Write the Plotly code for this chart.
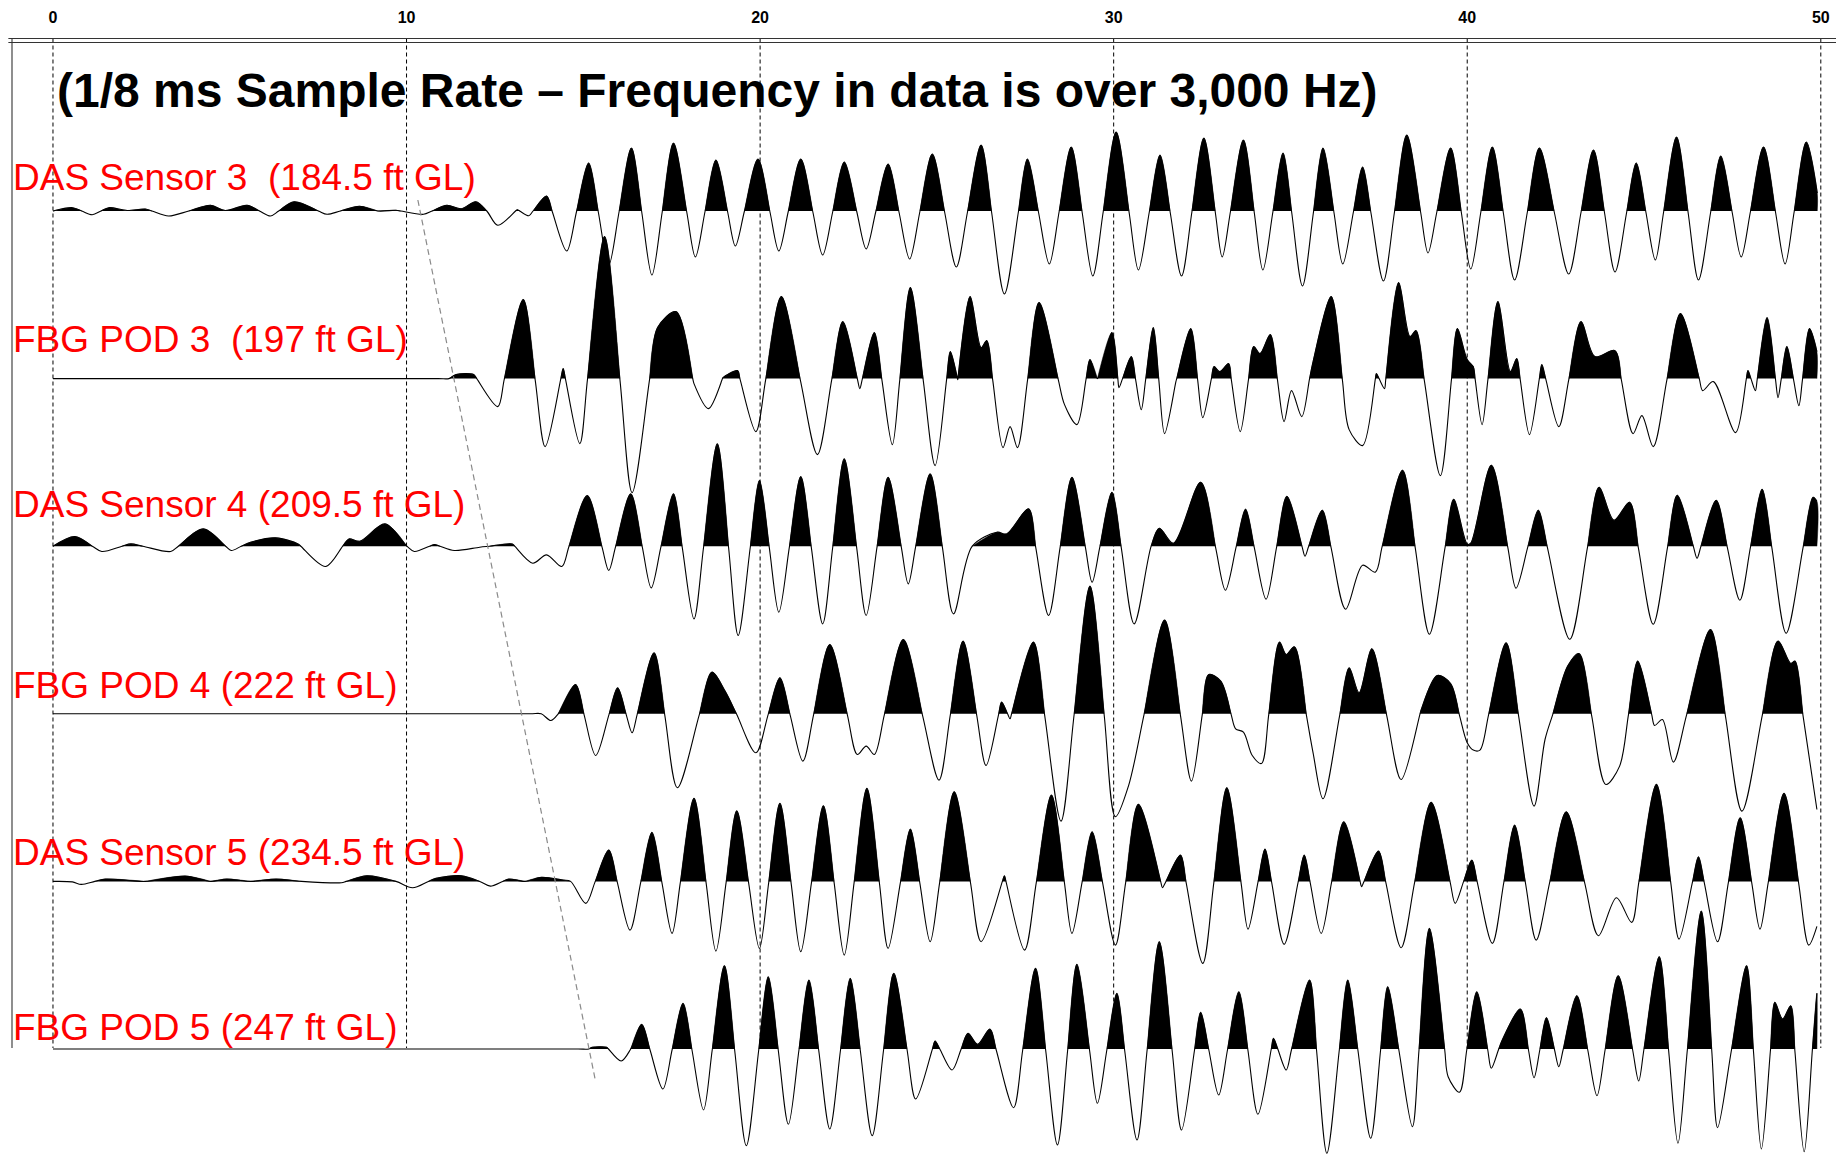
import plotly.graph_objects as go

# ---------------- data (time in ms, amplitude in display units; upward positive) ----------------
tick_vals = [0, 10, 20, 30, 40, 50]
title_text = "(1/8 ms Sample Rate \u2013 Frequency in data is over 3,000 Hz)"
labels = ["DAS Sensor 3  (184.5 ft GL)", "FBG POD 3  (197 ft GL)", "DAS Sensor 4 (209.5 ft GL)",
          "FBG POD 4 (222 ft GL)", "DAS Sensor 5 (234.5 ft GL)", "FBG POD 5 (247 ft GL)"]

das3 = [(0.0, 0), (0.55, 3.3), (1.11, -3.7), (1.58, 3.3), (2.10, 0.5), (2.61, 2), (3.27, -5), (3.84, 0),
        (4.46, 5.7), (4.87, 0.5), (5.49, 5.7), (6.15, -5), (6.82, 9.3), (7.75, -3.3), (8.67, 4.7), (9.19, 0),
        (9.70, 0.7), (10.48, -3.3), (11.14, 5.7), (11.55, 2.3), (11.96, 9.3), (12.27, 0), (12.58, -14.3),
        (13.13, 1.3), (13.46, -4.7), (13.96, 15), (14.53, -40), (15.15, 48), (15.72, -54), (16.36, 63),
        (16.94, -64), (17.55, 68), (18.17, -46), (18.75, 51), (19.30, -35), (19.94, 52), (20.53, -40),
        (21.15, 52), (21.77, -44), (22.38, 49), (23.00, -38), (23.62, 47), (24.23, -48), (24.87, 57),
        (25.55, -56), (26.25, 66), (26.91, -83), (27.56, 52), (28.18, -53), (28.80, 64), (29.41, -65),
        (30.07, 79), (30.70, -59), (31.31, 56), (31.92, -65), (32.55, 73), (33.07, -46), (33.67, 71),
        (34.22, -59), (34.79, 58), (35.34, -75), (35.92, 63), (36.48, -53), (37.04, 44), (37.63, -70),
        (38.29, 76), (38.89, -42), (39.53, 63), (40.10, -58), (40.71, 64), (41.34, -69), (42.04, 63),
        (42.87, -63), (43.57, 61), (44.18, -61), (44.78, 48), (45.32, -49), (45.92, 74), (46.54, -69),
        (47.17, 55), (47.75, -46), (48.38, 64), (48.99, -53), (49.59, 69), (49.90, 18)]

fbg3 = [(0.0, 0), (5.0, 0), (10.9, 0), (11.2, 0), (11.4, 4), (11.9, 4), (12.58, -28), (13.30, 79),
        (13.92, -68), (14.43, 10),
        (14.90, -65), (15.60, 142), (16.38, -114), (17.10, 51), (17.62, 67), (18.13, -5), (18.54, -30),
        (18.95, 1), (19.36, 8), (19.88, -53), (20.60, 82), (21.62, -76), (22.34, 57), (22.82, -10),
        (23.23, 46), (23.74, -66), (24.25, 91), (24.95, -87), (25.38, 27), (25.59, -1), (25.94, 82),
        (26.25, 31), (26.41, 38), (26.87, -69), (27.07, -48), (27.28, -69), (27.89, 76), (28.61, -26),
        (28.96, -46), (29.33, 19), (29.54, 0), (29.95, 46), (30.15, -9), (30.50, 22), (30.78, -31),
        (31.12, 51), (31.44, -55), (31.76, -3), (32.18, 50), (32.52, -39), (32.84, 12), (33.00, 7),
        (33.25, 15), (33.58, -53), (33.96, 32), (34.14, 25), (34.43, 44), (34.82, -43), (35.03, -12),
        (35.32, -38), (35.64, 17), (36.15, 82), (36.66, -51), (37.04, -67), (37.43, 5), (37.66, -10),
        (38.06, 96), (38.38, 42), (38.55, 48), (39.24, -97), (39.72, 50), (40.00, 19), (40.17, 12),
        (40.42, -46), (40.87, 77), (41.22, 7), (41.40, 20), (41.76, -56), (42.11, 14), (42.59, -48),
        (43.22, 57), (43.61, 22), (44.18, 28), (44.69, -55), (44.94, -37), (45.26, -68), (46.03, 65),
        (46.66, -12), (46.96, -3), (47.59, -54), (47.94, 8), (48.15, -12), (48.48, 61), (48.79, -19),
        (49.04, 32), (49.38, -27), (49.68, 50), (49.89, 27)]

das4 = [(0.0, 0), (0.62, 9.7), (1.38, -5.3), (2.20, 2.3), (3.33, -5.3), (4.25, 17.3), (5.04, -4.3),
        (5.59, 4), (6.31, 8.3), (6.93, 2.3), (7.71, -20.3), (8.37, 7.3), (8.68, 5), (9.39, 22.3),
        (10.01, 0), (10.22, -5.3), (10.79, 1.7), (11.35, -4.3), (12.07, -1), (12.99, 2.3), (13.57, -17),
        (13.96, -8.7), (14.39, -20.3), (15.11, 50.7), (15.72, -24.3), (16.34, 52.3), (16.92, -41.7),
        (17.55, 52.3), (18.13, -72.7), (18.79, 102.3), (19.38, -89.3), (19.98, 65.7), (20.53, -66),
        (21.15, 69.7), (21.77, -77.7), (22.38, 87.3), (23.00, -69.3), (23.62, 69), (24.19, -37.7),
        (24.81, 72.3), (25.47, -67.7), (26.00, 0), (26.70, 14), (26.97, 12.3), (27.59, 37.3),
        (28.16, -69.3), (28.82, 69), (29.39, -36), (29.95, 54), (30.58, -77.7), (31.06, 0), (31.29, 18),
        (31.69, 3), (32.46, 64), (33.16, -44), (33.73, 37), (34.31, -53), (34.90, 50), (35.41, -10),
        (35.90, 36), (36.56, -63), (37.04, -19), (37.40, -26), (38.17, 76), (38.93, -88), (39.62, 47),
        (40.00, 2), (40.10, 3), (40.68, 81), (41.38, -42), (42.01, 36), (42.90, -93), (43.73, 59),
        (44.15, 26), (44.59, 44), (45.26, -78), (45.94, 51), (46.50, -12), (47.04, 46), (47.71, -54),
        (48.34, 57), (49.02, -87), (49.78, 49), (49.89, 45)]

fbg4 = [(0.0, 0), (6.0, 0), (13.5, 0), (13.81, 0), (14.08, -6.7), (14.29, 0), (14.78, 29.3),
        (15.35, -41.7), (15.97, 26),
        (16.38, -19), (17.00, 61), (17.66, -74), (18.64, 41.7), (19.01, 22.7), (19.88, -39), (20.56, 36),
        (21.21, -47.3), (21.97, 69.3), (22.75, -40.7), (23.00, -32.3), (23.23, -40.7), (24.05, 74.3),
        (25.06, -66.3), (25.74, 72.7), (26.39, -51.7), (26.83, 11.7), (27.07, -5), (27.73, 71.7),
        (28.51, -107.3), (29.33, 127.7), (30.05, -103), (30.42, -72), (31.44, 93.7), (32.20, -67.3),
        (32.69, 39.3), (33.03, 32.7), (33.45, -15), (33.67, -18.3), (33.92, -41.7), (34.18, -49.7),
        (34.69, 71.7), (34.88, 59.3), (35.11, 67), (35.64, -39), (35.92, -85), (36.66, 46), (36.94, 21),
        (37.30, 65), (38.13, -65.7), (38.70, 4.3), (39.15, 38.3), (39.53, 30.3), (40.00, -29),
        (40.17, -36.3), (40.36, -36.3), (41.10, 71), (41.89, -92.3), (42.20, -25.7), (42.84, 47.7),
        (43.16, 60.3), (43.92, -70.7), (44.31, -52.3), (44.82, 52.7), (45.30, -11.7), (45.52, -5.7),
        (45.83, -48.3), (46.88, 84.3), (47.77, -97.3), (48.79, 72.7), (49.15, 50.3), (49.27, 52.7),
        (49.89, -95.7)]

das5 = [(0.0, 0), (0.55, -0.5), (0.80, -3), (1.48, 2.3), (2.61, 0), (3.74, 5.3), (4.46, 0), (4.91, 2.3),
        (5.59, 0), (6.31, 2.3), (7.03, 0), (8.16, -1.3), (8.88, 5.7), (9.70, 0), (10.17, -6.3),
        (10.83, 3), (11.55, 5.7), (12.07, 0), (12.37, -4.7), (12.89, 2.3), (13.35, 0), (13.81, 4),
        (14.43, 1.3), (14.64, 0), (15.07, -22), (15.72, 31.3), (16.32, -48.7), (16.94, 49), (17.51, -52),
        (18.13, 83), (18.75, -69.7), (19.34, 70.7), (19.98, -67), (20.56, 78), (21.15, -70.3),
        (21.79, 75.7), (22.38, -73.7), (23.02, 93), (23.62, -67), (24.25, 52.3), (24.81, -60.3),
        (25.49, 89.7), (26.25, -60.3), (26.91, 5.7), (27.48, -68.7), (28.24, 86.3), (28.82, -52),
        (29.39, 49.7), (30.05, -63.7), (30.70, 77), (31.38, -6.3), (31.89, 26.3), (32.52, -82),
        (33.20, 93.7), (33.80, -47.7), (34.28, 32.3), (34.82, -63), (35.39, 26.3), (35.87, -52),
        (36.51, 59.7), (37.01, -5.3), (37.49, 30.3), (38.13, -66.3), (38.98, 79), (39.66, -22),
        (40.13, 21.3), (40.71, -62), (41.34, 56.3), (41.95, -58.7), (42.80, 69.7), (43.71, -54.3),
        (44.22, -16.3), (44.65, -41), (45.35, 97), (45.99, -57.7), (46.54, 24.7), (47.08, -60.3),
        (47.72, 63.7), (48.28, -47.7), (48.96, 88), (49.66, -63.7), (49.89, -45)]

fbg5 = [(0.0, 0), (7.0, 0), (14.85, 0), (15.15, 0), (15.25, 1.7), (15.66, 1.7), (16.07, -12), (16.34, 0),
        (16.65, 24.7),
        (17.25, -40), (17.82, 45.7), (18.40, -61), (18.99, 83.3), (19.61, -96.7), (20.23, 72.3),
        (20.80, -75.3), (21.38, 69), (21.97, -80), (22.55, 70.7), (23.17, -86.7), (23.78, 75.7),
        (24.40, -50), (24.95, 8), (25.43, -21), (25.88, 15.7), (26.15, 4.7), (26.50, 20), (27.17, -58.7),
        (27.79, 80.7), (28.41, -96), (28.96, 84.7), (29.54, -54.3), (30.09, 55.7), (30.66, -91),
        (31.29, 107.3), (31.92, -81), (32.46, 36.7), (32.97, -46), (33.54, 57.3), (34.08, -65.3),
        (34.52, 10.7), (34.88, -21), (35.54, 69), (36.03, -104.3), (36.62, 69), (37.27, -89.3),
        (37.75, 62.3), (38.45, -77.7), (38.93, 120.7), (39.46, -27.7), (39.78, -43.3), (40.27, 57.3),
        (40.68, -19.3), (40.99, 9), (41.50, 40), (41.89, -28.7), (42.24, 31.3), (42.59, -17.7),
        (43.10, 53.3), (43.67, -46.7), (44.27, 73.3), (44.85, -32), (45.43, 92.3), (45.96, -94.3),
        (46.62, 138), (47.08, -78.7), (47.90, 83.3), (48.32, -100), (48.70, 46.7), (48.92, 30),
        (49.15, 43.3), (49.53, -102.7), (49.89, 55.7)]

moveout_t = [10.32, 15.35]          # dashed gray first-arrival guide
moveout_y = [11, -871]

# ---------------- layout constants ----------------
SPACING = 167.6
label_dy = [34, 39, 42, 28, 29, 22]
Y_TOP, Y_BOT = 181, -944
X0, X1 = -1.159, 50.43
FRAME_TOP1, FRAME_TOP2 = 172.5, 168.5
FRAME_BOTTOM = -837
SMOOTH = 0.9


def with_crossings(t, a):
    """Return the samples plus the baseline crossings between them (for the variable-area fill)."""
    xs, ys = [t[0]], [a[0]]
    for i in range(1, len(t)):
        if (a[i - 1] > 0 > a[i]) or (a[i - 1] < 0 < a[i]):
            tc = t[i - 1] + (t[i] - t[i - 1]) * (0 - a[i - 1]) / (a[i] - a[i - 1])
            xs.append(tc)
            ys.append(0.0)
        xs.append(t[i])
        ys.append(a[i])
    return xs, ys


def positive_lobes(t, a, base):
    xs, ys, poly = [], [], []
    n = len(t)
    for i in range(n):
        if a[i] > 0:
            if not poly:
                if i > 0 and a[i - 1] <= 0:
                    tc = t[i - 1] + (t[i] - t[i - 1]) * (0 - a[i - 1]) / (a[i] - a[i - 1])
                else:
                    tc = t[i]
                poly.append((tc, 0))
            poly.append((t[i], a[i]))
            if i == n - 1 or a[i + 1] <= 0:
                if i < n - 1:
                    tc = t[i] + (t[i + 1] - t[i]) * a[i] / (a[i] - a[i + 1])
                else:
                    tc = t[i]
                poly.append((tc, 0))
                xs += [p[0] for p in poly] + [None]
                ys += [p[1] + base for p in poly] + [None]
                poly = []
    return xs, ys


fig = go.Figure()
series = [das3, fbg3, das4, fbg4, das5, fbg5]
for k, s in enumerate(series):
    base = -SPACING * k
    t = [p[0] for p in s]
    a = [p[1] for p in s]
    fx, fy = positive_lobes(t, a, base)
    fig.add_trace(go.Scatter(x=fx, y=fy, mode="lines", fill="toself", fillcolor="black",
                             line=dict(color="black", width=0.5, shape="spline", smoothing=SMOOTH),
                             hoverinfo="skip", showlegend=False))
    lx, ly = with_crossings(t, a)
    fig.add_trace(go.Scatter(x=lx, y=[v + base for v in ly], mode="lines",
                             line=dict(color="black", width=1.1, shape="spline", smoothing=SMOOTH),
                             name=labels[k], showlegend=False))

fig.add_trace(go.Scatter(x=moveout_t, y=moveout_y, mode="lines",
                         line=dict(color="#8a8a8a", width=1.2, dash="6px,4px"),
                         hoverinfo="skip", showlegend=False))

shapes = []
for tv in tick_vals:
    shapes.append(dict(type="line", xref="x", yref="y", x0=tv, x1=tv, y0=FRAME_TOP1, y1=FRAME_BOTTOM,
                       line=dict(color="black", width=1, dash="4px,3px"), layer="below"))
shapes.append(dict(type="line", xref="paper", yref="y", x0=0, x1=0, y0=FRAME_TOP1, y1=FRAME_BOTTOM,
                   line=dict(color="#444444", width=1.2)))
for yy in (FRAME_TOP1, FRAME_TOP2):
    shapes.append(dict(type="line", xref="paper", yref="y", x0=-0.002, x1=1, y0=yy, y1=yy,
                       line=dict(color="#333333", width=1.2)))

annotations = [dict(text="<b>" + title_text + "</b>", x=0.06, xref="x", xanchor="left", y=121, yref="y",
                    yanchor="middle", showarrow=False,
                    font=dict(family="Liberation Sans, Arial", size=48, color="black"))]
for k, lab in enumerate(labels):
    annotations.append(dict(text=lab, x=0, xref="paper", xanchor="left", y=-SPACING * k + label_dy[k],
                            yref="y", yanchor="middle", showarrow=False, borderpad=0,
                            font=dict(family="Liberation Sans, Arial", size=37, color="#FF0000")))

fig.update_layout(
    width=1839, height=1155,
    margin=dict(l=12, r=3, t=30, b=0),
    paper_bgcolor="white", plot_bgcolor="white",
    shapes=shapes, annotations=annotations,
    xaxis=dict(range=[X0, X1], side="top", tickvals=tick_vals, ticktext=[str(v) for v in tick_vals],
               showgrid=False, zeroline=False, showline=False, ticks="",
               tickfont=dict(family="Liberation Sans, Arial", size=16, color="black", weight="bold"),
               ticklabelstandoff=3),
    yaxis=dict(range=[Y_BOT, Y_TOP], visible=False),
)

fig.write_html("out.html")
